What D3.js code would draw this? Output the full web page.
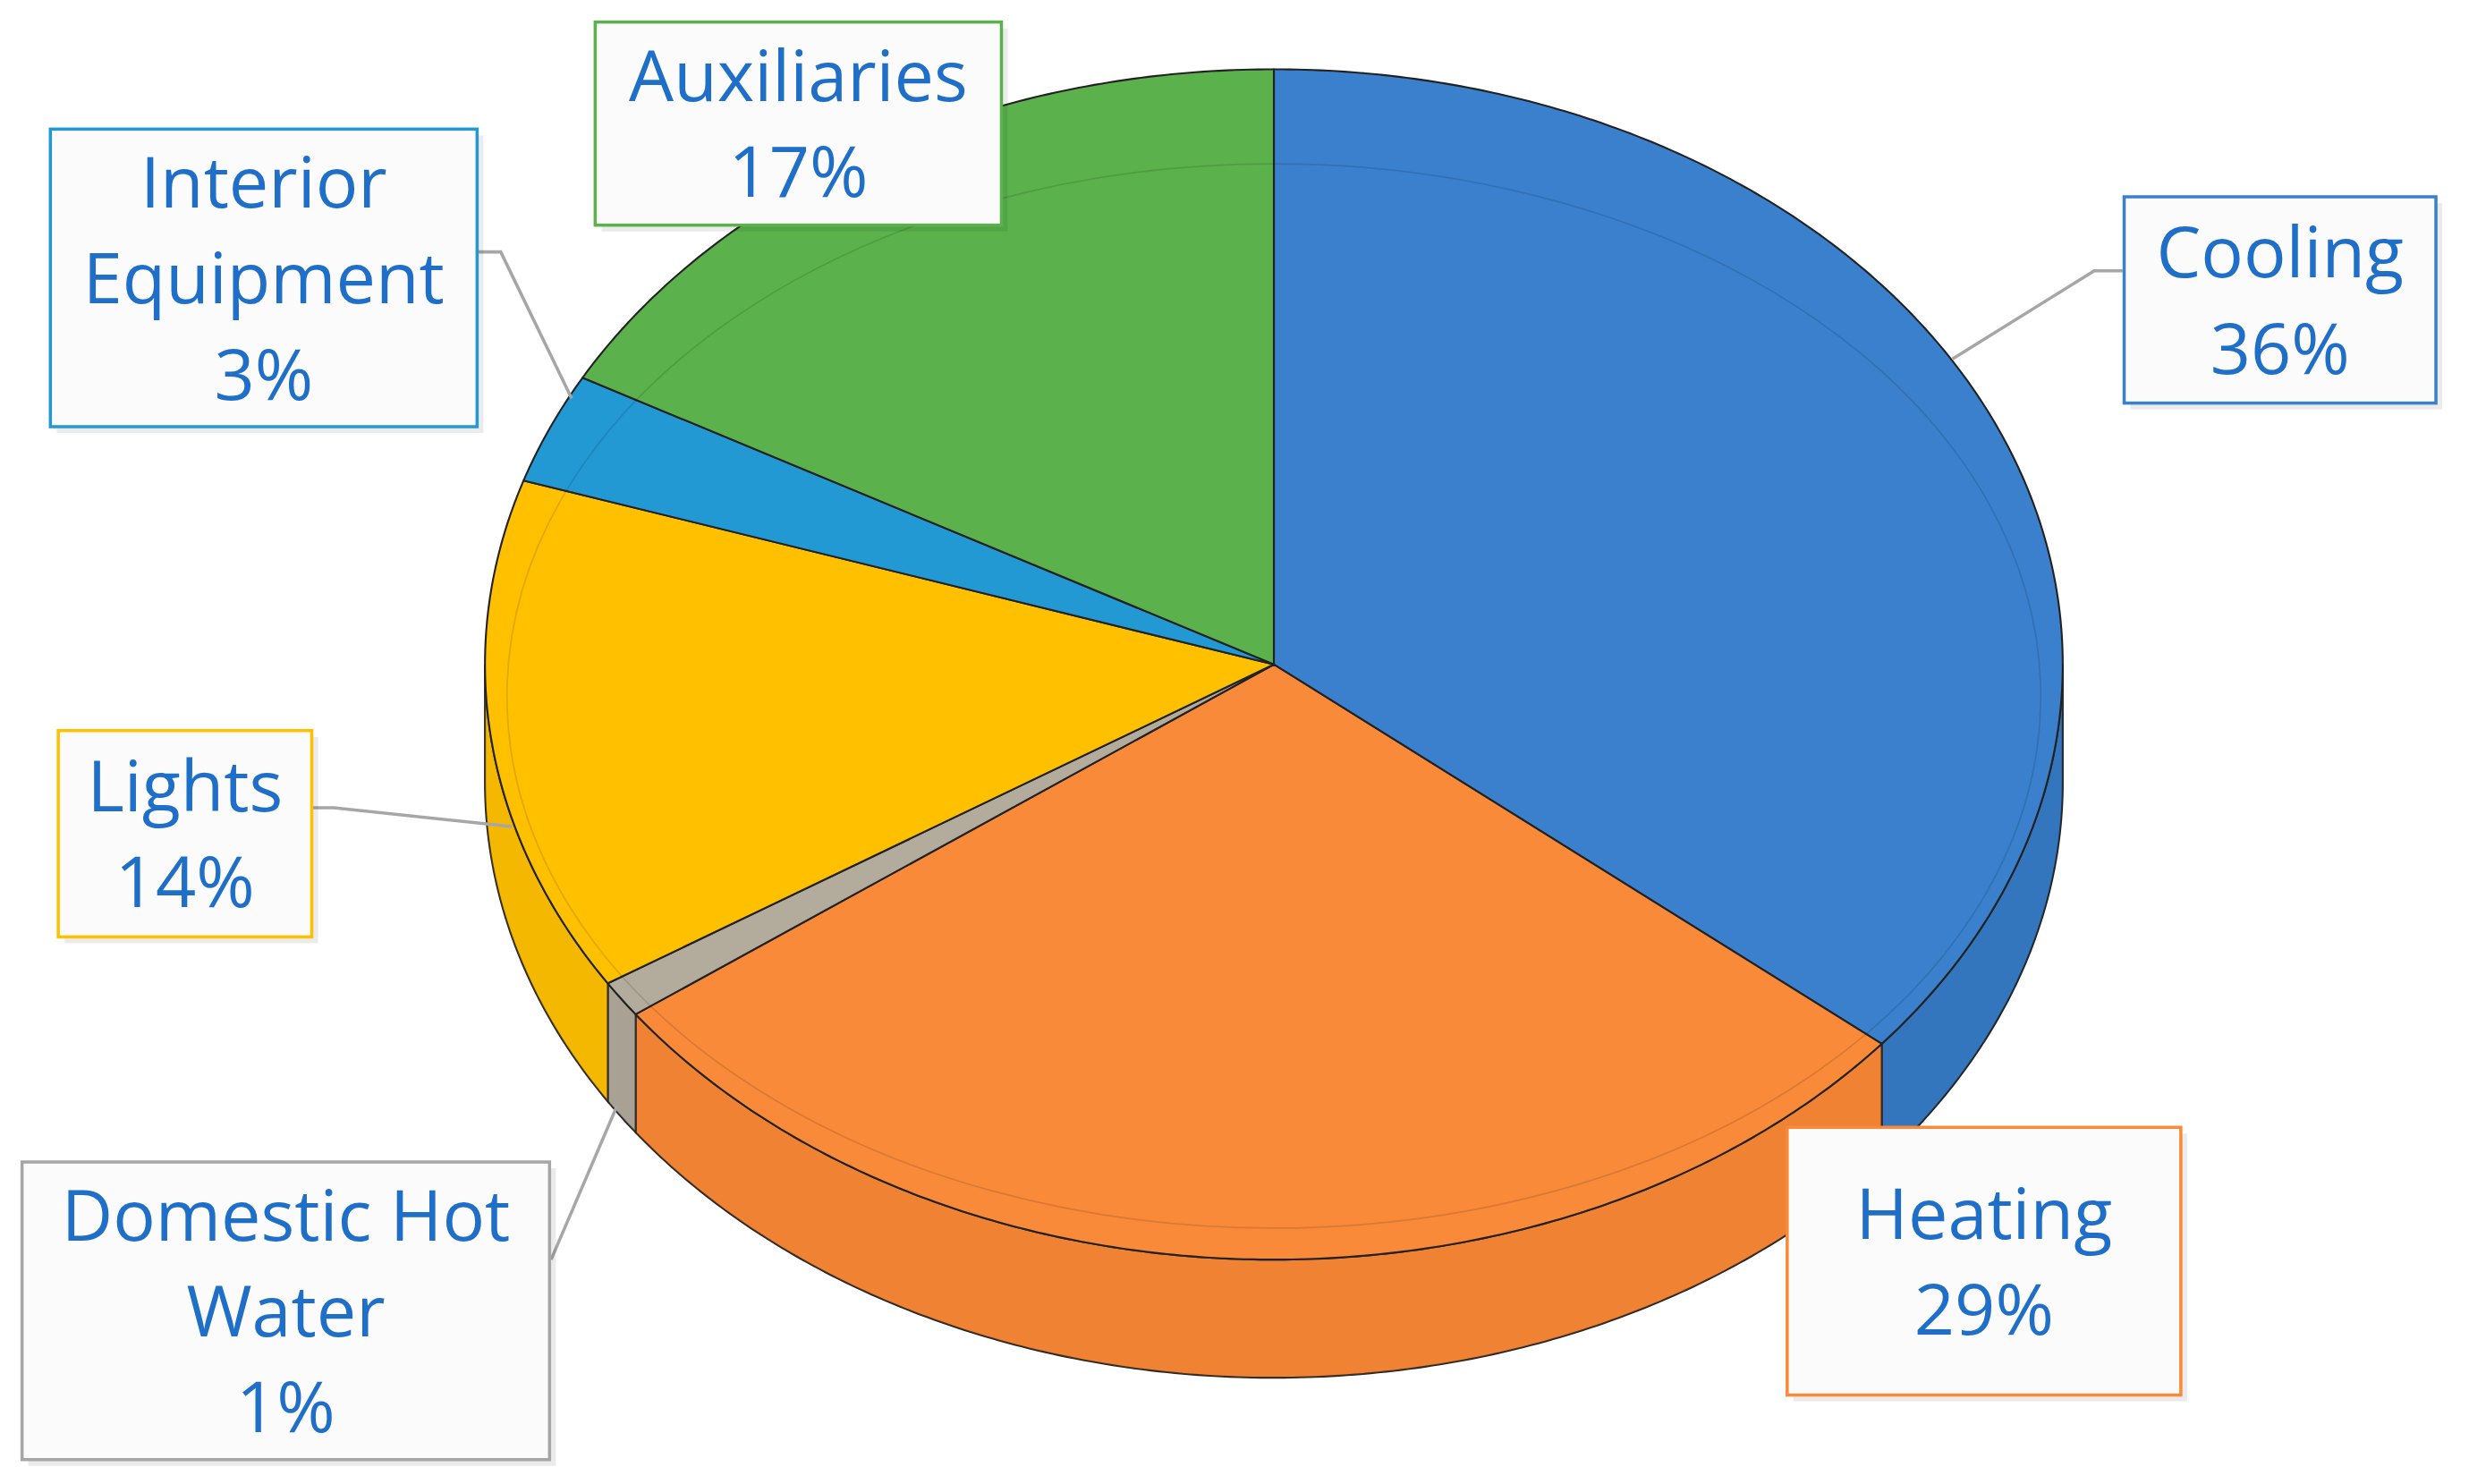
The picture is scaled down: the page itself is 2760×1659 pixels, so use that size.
<!DOCTYPE html>
<html>
<head>
<meta charset="utf-8" />
<style>
html, body { margin: 0; padding: 0; background: #fff; }
svg { display: block; }
</style>
</head>
<body>
<svg id="chart" width="2760" height="1659"></svg>
<script src="https://cdnjs.cloudflare.com/ajax/libs/d3/7.8.5/d3.min.js"></script>
<script>
!(function(){
    "use strict";

    var categories = ["Cooling", "Heating", "Domestic Hot Water", "Lights", "Interior Equipment", "Auxiliaries"];
    var values = [36, 29, 1, 14, 3, 17];
    var labelLines = [["Cooling", "36%"], ["Heating", "29%"], ["Domestic Hot", "Water", "1%"], ["Lights", "14%"], ["Interior", "Equipment", "3%"], ["Auxiliaries", "17%"]];
    var colors = ["#3a80cc", "#f98a3a", "#b3ab9c", "#ffc000", "#2399d4", "#5bb24c"];
    var sideColors = ["#24568f", "#d96a22", "#8a8377", "#d9a000", "#1a73a3", "#3f8a34"];

    // layout in reference display units, scaled up to the window
    var s = 2760 / 1568;
    var cx = 809, cy = 422, rx = 501, ry = 378, depth = 75;
    var boxes = [
        {x: 1349, y: 125, w: 198, h: 131, lead: [[1348,172],[1330,172],[1240,228]]},
        {x: 1135, y: 716, w: 250, h: 170, lead: null},
        {x: 14, y: 738, w: 335, h: 189, lead: [[350,800],[392,702]]},
        {x: 37, y: 464, w: 161, h: 131, lead: [[198,513],[212,513],[325,525]]},
        {x: 32, y: 82, w: 271, h: 189, lead: [[303,160],[318,160],[363,253]]},
        {x: 378, y: 14, w: 258, h: 129, lead: null}
    ];

    var svg = d3.select("#chart");
    var g = svg.append("g").attr("transform", "scale(" + s + ")");

    var pie = d3.pie().sort(null).value(function(d){ return d; });
    var arcs = pie(values);

    function pt(a, dy) {
        return [cx + rx * Math.sin(a), cy - ry * Math.cos(a) + (dy || 0)];
    }
    function arcPts(a0, a1, dy) {
        var n = Math.max(2, Math.ceil(Math.abs(a1 - a0) / 0.01));
        return d3.range(n + 1).map(function(i){ return pt(a0 + (a1 - a0) * i / n, dy); });
    }
    var line = d3.line();

    // side walls (visible front half only)
    arcs.forEach(function(d, i) {
        var a0 = Math.max(d.startAngle, Math.PI / 2), a1 = Math.min(d.endAngle, 3 * Math.PI / 2);
        if (a1 <= a0) return;
        var pts = arcPts(a0, a1, 0).concat(arcPts(a1, a0, depth));
        g.append("path").attr("d", line(pts) + "Z")
            .attr("fill", colors[i]).attr("stroke", "#222").attr("stroke-width", 1.2);
        g.append("path").attr("d", line(pts) + "Z")
            .attr("fill", sideColors[i]).attr("opacity", 0.25);
    });

    // top face
    arcs.forEach(function(d, i) {
        var pts = [[cx, cy]].concat(arcPts(d.startAngle, d.endAngle, 0));
        g.append("path").attr("d", line(pts) + "Z")
            .attr("fill", colors[i]).attr("stroke", "#222").attr("stroke-width", 1.2)
            .attr("stroke-linejoin", "round");
    });
    // faint inner ring
    g.append("ellipse").attr("cx", cx).attr("cy", cy + 20).attr("rx", rx - 14).attr("ry", ry - 40)
        .attr("fill", "none").attr("stroke", "#000").attr("stroke-opacity", 0.12);

    // labels
    boxes.forEach(function(b, i) {
        if (b.lead) {
            g.append("path").attr("d", line(b.lead)).attr("fill", "none")
                .attr("stroke", "#a6a6a6").attr("stroke-width", 2);
        }
        g.append("rect").attr("x", b.x + 4).attr("y", b.y + 4).attr("width", b.w).attr("height", b.h)
            .attr("fill", "#000").attr("opacity", 0.08);
        g.append("rect").attr("x", b.x).attr("y", b.y).attr("width", b.w).attr("height", b.h)
            .attr("fill", "#fbfbfb").attr("stroke", i === 2 ? "#a6a6a6" : colors[i]).attr("stroke-width", 2);
        var lines = labelLines[i];
        var lh = 61;
        var y0 = b.y + b.h / 2 - (lines.length - 1) * lh / 2;
        var t = g.append("text").attr("text-anchor", "middle")
            .attr("font-family", "Open Sans, Liberation Sans, sans-serif").attr("font-size", 45)
            .attr("fill", "#1f6fc9");
        lines.forEach(function(l, k) {
            t.append("tspan").attr("x", b.x + b.w / 2).attr("y", y0 + k * lh).attr("dy", "0.36em").text(l);
        });
    });
}());
</script>
</body>
</html>
